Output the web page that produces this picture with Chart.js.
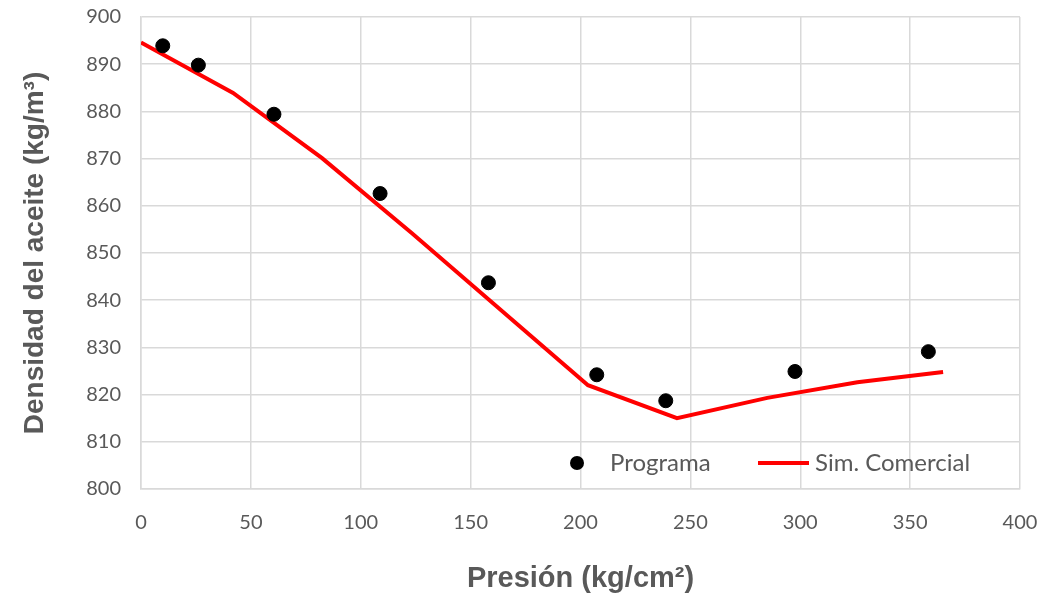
<!DOCTYPE html>
<html>
<head>
<meta charset="utf-8">
<script src="https://cdn.jsdelivr.net/npm/chart.js"></script>
<style>
  body { margin: 0; background: #fff; }
  #wrap { width: 1044px; height: 600px; position: relative; }
</style>
</head>
<body>
<div id="wrap"><canvas id="myChart"></canvas></div>
<script>
// Programa (puntos)
const progX = [9.9, 26.1, 60.5, 108.8, 158.1, 207.4, 238.8, 297.6, 358.3];
const progY = [893.9, 889.8, 879.4, 862.6, 843.7, 824.2, 818.7, 824.9, 829.1];

// Sim. Comercial (linea)
const simX = [0, 41.9, 82.4, 123.3, 203.4, 243.9, 285, 326, 365];
const simY = [894.6, 883.9, 870.1, 854.2, 822.0, 815.0, 819.3, 822.6, 824.8];

const xTicks = [0, 50, 100, 150, 200, 250, 300, 350, 400];
const yTicks = [800, 810, 820, 830, 840, 850, 860, 870, 880, 890, 900];

function Pairs(xs, ys) {
  let ans = [];
  for (let i = 0; i < xs.length; i++) {
    ans.push({ x: xs[i], y: ys[i] });
  }
  return ans;
}

const gray = "#595959";
const grid = "#d9d9d9";
const tickFont = "Lato, 'Open Sans', sans-serif";

// legend drawn inside the plot area, bottom right
const innerLegend = {
  id: "innerLegend",
  afterDraw(chart) {
    const ctx = chart.ctx;
    const y = 463;
    ctx.save();
    ctx.fillStyle = "#000";
    ctx.beginPath();
    ctx.arc(577, y, 7, 0, Math.PI * 2);
    ctx.fill();
    ctx.font = "24px " + tickFont;
    ctx.fillStyle = gray;
    ctx.textBaseline = "middle";
    ctx.fillText("Programa", 610, y);
    ctx.strokeStyle = "#ff0000";
    ctx.lineWidth = 4;
    ctx.beginPath();
    ctx.moveTo(758, y);
    ctx.lineTo(809, y);
    ctx.stroke();
    ctx.fillText("Sim. Comercial", 815, y);
    ctx.restore();
  },
};

const data = {
  datasets: [
    {
      label: "Sim. Comercial",
      type: "line",
      data: Pairs(simX, simY),
      borderColor: "#ff0000",
      borderWidth: 4,
      pointRadius: 0,
      tension: 0,
      order: 2,
    },
    {
      label: "Programa",
      type: "scatter",
      data: Pairs(progX, progY),
      backgroundColor: "#000",
      borderColor: "#000",
      pointRadius: 7,
      order: 1,
    },
  ],
};

const config = {
  type: "scatter",
  data: data,
  plugins: [innerLegend],
  options: {
    responsive: false,
    animation: false,
    layout: { padding: { top: 17, right: 24, left: 0, bottom: 0 } },
    plugins: {
      legend: { display: false },
      tooltip: { enabled: false },
    },
    scales: {
      x: {
        type: "linear",
        min: 0,
        max: 400,
        afterBuildTicks: (axis) => {
          axis.ticks = xTicks.map((v) => ({ value: v }));
        },
        afterFit: (axis) => {
          axis.height = 111;
          axis.paddingLeft = 0;
          axis.paddingRight = 0;
        },
        grid: { color: grid, lineWidth: 1.5, drawTicks: false },
        border: { color: grid, width: 1.5 },
        ticks: {
          color: gray,
          font: { family: tickFont, size: 20 },
          padding: 22,
        },
        title: {
          display: true,
          text: "Presión (kg/cm²)",
          color: gray,
          font: { family: "'Liberation Sans', Arial, sans-serif", size: 29, weight: "bold" },
          padding: { top: 30, bottom: 4 },
        },
      },
      y: {
        type: "linear",
        min: 800,
        max: 900,
        afterBuildTicks: (axis) => {
          axis.ticks = yTicks.map((v) => ({ value: v }));
        },
        afterFit: (axis) => {
          axis.width = 141;
          axis.paddingTop = 0;
          axis.paddingBottom = 0;
        },
        grid: { color: grid, lineWidth: 1.5, drawTicks: false },
        border: { color: grid, width: 1.5 },
        ticks: {
          color: gray,
          font: { family: tickFont, size: 20 },
          padding: 20,
        },
        title: {
          display: true,
          text: "Densidad del aceite (kg/m³)",
          color: gray,
          font: { family: "'Liberation Sans', Arial, sans-serif", size: 28, weight: "bold" },
          padding: { top: 18, bottom: 0 },
        },
      },
    },
  },
};

const cv = document.getElementById("myChart");
cv.width = 1044;
cv.height = 600;
new Chart(cv, config);
</script>
</body>
</html>
